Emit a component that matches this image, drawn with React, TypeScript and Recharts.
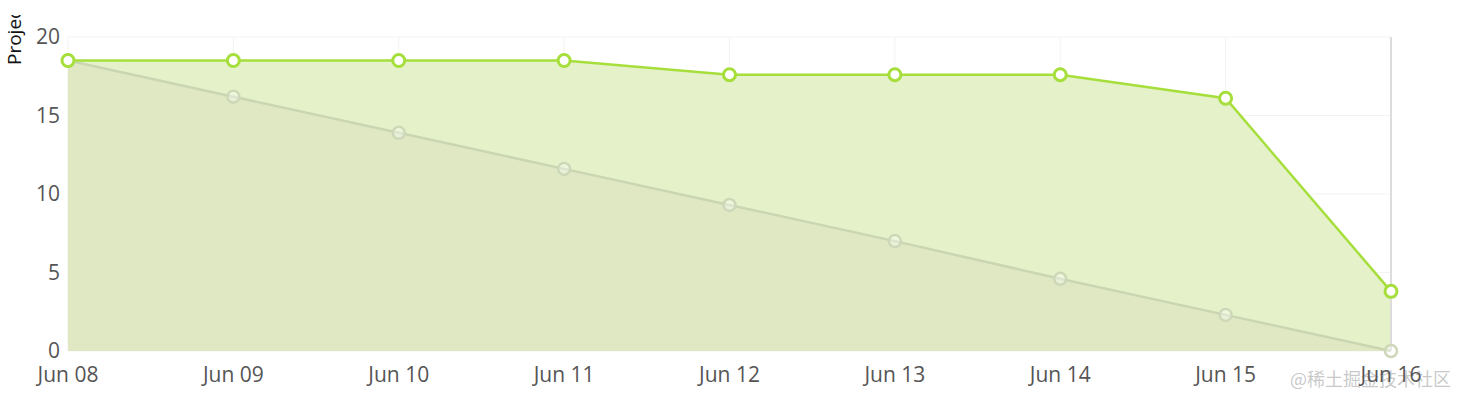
import { ComposedChart, Area, Line, XAxis, YAxis, CartesianGrid, ReferenceLine } from "recharts"

const days = ["Jun 08", "Jun 09", "Jun 10", "Jun 11", "Jun 12", "Jun 13", "Jun 14", "Jun 15", "Jun 16"]
const actual = [18.5, 18.5, 18.5, 18.5, 17.6, 17.6, 17.6, 16.1, 3.8]
const ideal = [18.5, 16.2, 13.9, 11.6, 9.3, 7.0, 4.6, 2.3, 0]
const yTicks = [0, 5, 10, 15, 20]

const data = days.map((d, i) => ({ day: d, actual: actual[i], ideal: ideal[i] }))

const font = "'Open Sans', 'DejaVu Sans', sans-serif"

export default function App() {
  return (
    <div style={{ position: "absolute", left: 0, top: 0, width: 1465, height: 403, background: "#fff" }}>
      <ComposedChart width={1465} height={403} data={data} margin={{ top: 37, right: 74, left: 0, bottom: 0 }}>
        <defs>
          {/* the axis title is cut off near the top in the original */}
          <clipPath id="titleClip">
            <rect x={0} y={15} width={40} height={80} />
          </clipPath>
        </defs>
        <CartesianGrid stroke="#f3f3f3" strokeWidth={1} />
        <XAxis
          dataKey="day"
          height={52}
          axisLine={false}
          tickLine={false}
          tickMargin={10}
          interval={0}
          tick={{ fontSize: 21, fill: "#555", fontFamily: font }}
        />
        <YAxis
          width={68}
          domain={[0, 20]}
          ticks={yTicks}
          axisLine={false}
          tickLine={false}
          tick={{ fontSize: 21, fill: "#555", fontFamily: font }}
        />
        <ReferenceLine x="Jun 16" stroke="#dcdcdc" strokeWidth={2} />
        <Area
          type="linear"
          dataKey="actual"
          stroke="none"
          fill="#e5f2c9"
          fillOpacity={1}
          isAnimationActive={false}
        />
        <Area
          type="linear"
          dataKey="ideal"
          stroke="#cad6b2"
          strokeWidth={2.5}
          fill="#dfe8c3"
          fillOpacity={1}
          dot={{ r: 6, fill: "#fff", fillOpacity: 0.35, stroke: "#cdd8b8", strokeWidth: 2.5 }}
          isAnimationActive={false}
        />
        <Line
          type="linear"
          dataKey="actual"
          stroke="#a6de3c"
          strokeWidth={2.5}
          dot={{ r: 6, fill: "#fff", stroke: "#a6de3c", strokeWidth: 3 }}
          isAnimationActive={false}
        />
        <g clipPath="url(#titleClip)">
          <text
            transform="translate(21, 65) rotate(-90)"
            textAnchor="start"
            fontSize={19}
            fill="#111"
            fontFamily={font}
          >
            Project Hours Remaining
          </text>
        </g>
        <text x={1290} y={386} fontSize={18} fill="#bbb" fillOpacity={0.8} fontFamily="'Noto Sans CJK SC', sans-serif">
          @稀土掘金技术社区
        </text>
      </ComposedChart>
    </div>
  )
}
